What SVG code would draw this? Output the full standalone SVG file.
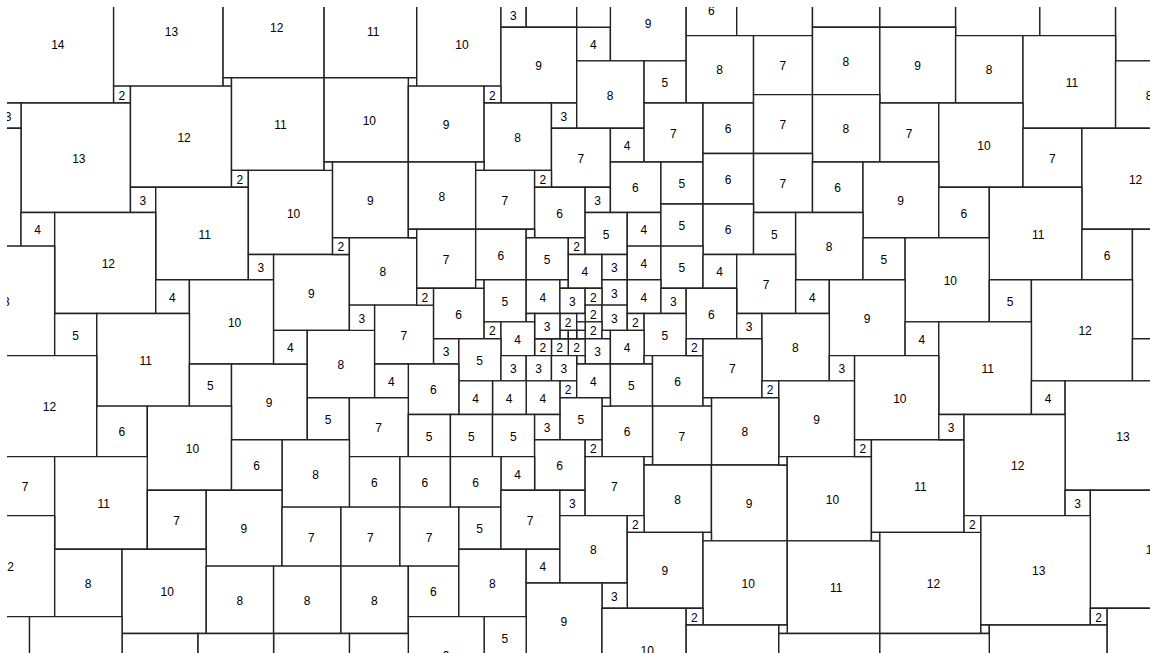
<svg xmlns="http://www.w3.org/2000/svg" width="1150" height="653" viewBox="0 0 1150 653">
<style>
rect.s{fill:#fff;stroke:#222;stroke-width:1.4;vector-effect:non-scaling-stroke}
text{font-family:"Liberation Sans",Arial,sans-serif;font-size:1.425px;fill:#000}
</style>
<defs><clipPath id="clip"><rect x="7" y="7" width="1143" height="646"/></clipPath></defs>
<rect width="1150" height="653" fill="#fff"/>
<g clip-path="url(#clip)">
<g id="tiles" transform="translate(21 103) scale(8.42)">
<g id="n1"><rect class="s" x="-3" y="-14" width="14" height="14"/><text x="3.58" y="-6.4">14</text></g>
<g id="n2"><rect class="s" x="11" y="-15" width="13" height="13"/><text x="17.08" y="-7.9">13</text></g>
<g id="n3"><rect class="s" x="11" y="-2" width="2" height="2"/><text x="11.58" y="-0.4">2</text></g>
<g id="n4"><rect class="s" x="24" y="-15" width="12" height="12"/><text x="29.58" y="-8.4">12</text></g>
<g id="n5"><rect class="s" x="24" y="-3" width="1" height="1"/></g>
<g id="n6"><rect class="s" x="36" y="-14" width="11" height="11"/><text x="41.08" y="-7.9">11</text></g>
<g id="n7"><rect class="s" x="46" y="-3" width="1" height="1"/></g>
<g id="n8"><rect class="s" x="47" y="-12" width="10" height="10"/><text x="51.58" y="-6.4">10</text></g>
<g id="n9"><rect class="s" x="57" y="-12" width="3" height="3"/><text x="58.08" y="-9.9">3</text></g>
<g id="n10"><rect class="s" x="60" y="-15" width="6" height="6"/></g>
<g id="n11"><rect class="s" x="57" y="-9" width="9" height="9"/><text x="61.08" y="-3.9">9</text></g>
<g id="n12"><rect class="s" x="66" y="-9" width="4" height="4"/><text x="67.58" y="-6.4">4</text></g>
<g id="n13"><rect class="s" x="70" y="-14" width="9" height="9"/><text x="74.08" y="-8.9">9</text></g>
<g id="n14"><rect class="s" x="79" y="-14" width="6" height="6"/><text x="81.58" y="-10.4">6</text></g>
<g id="n15"><rect class="s" x="85" y="-17" width="9" height="9"/></g>
<g id="n16"><rect class="s" x="94" y="-17" width="8" height="8"/></g>
<g id="n17"><rect class="s" x="102" y="-18" width="9" height="9"/></g>
<g id="n18"><rect class="s" x="111" y="-18" width="10" height="10"/></g>
<g id="n19"><rect class="s" x="121" y="-17" width="9" height="9"/></g>
<g id="n20"><rect class="s" x="130" y="-16" width="11" height="11"/></g>
<g id="n21"><rect class="s" x="0" y="0" width="13" height="13"/><text x="6.08" y="7.1">13</text></g>
<g id="n22"><rect class="s" x="-3" y="0" width="3" height="3"/><text x="-1.92" y="2.1">3</text></g>
<g id="n23"><rect class="s" x="13" y="-2" width="12" height="12"/><text x="18.58" y="4.6">12</text></g>
<g id="n24"><rect class="s" x="25" y="-3" width="11" height="11"/><text x="30.08" y="3.1">11</text></g>
<g id="n25"><rect class="s" x="36" y="-3" width="10" height="10"/><text x="40.58" y="2.6">10</text></g>
<g id="n26"><rect class="s" x="46" y="-2" width="9" height="9"/><text x="50.08" y="3.1">9</text></g>
<g id="n27"><rect class="s" x="55" y="-2" width="2" height="2"/><text x="55.58" y="-0.4">2</text></g>
<g id="n28"><rect class="s" x="55" y="0" width="8" height="8"/><text x="58.58" y="4.6">8</text></g>
<g id="n29"><rect class="s" x="63" y="0" width="3" height="3"/><text x="64.08" y="2.1">3</text></g>
<g id="n30"><rect class="s" x="66" y="-5" width="8" height="8"/><text x="69.58" y="-0.4">8</text></g>
<g id="n31"><rect class="s" x="74" y="-5" width="5" height="5"/><text x="76.08" y="-1.9">5</text></g>
<g id="n32"><rect class="s" x="79" y="-8" width="8" height="8"/><text x="82.58" y="-3.4">8</text></g>
<g id="n33"><rect class="s" x="87" y="-8" width="7" height="7"/><text x="90.08" y="-3.9">7</text></g>
<g id="n34"><rect class="s" x="94" y="-9" width="8" height="8"/><text x="97.58" y="-4.4">8</text></g>
<g id="n35"><rect class="s" x="102" y="-9" width="9" height="9"/><text x="106.08" y="-3.9">9</text></g>
<g id="n36"><rect class="s" x="111" y="-8" width="8" height="8"/><text x="114.58" y="-3.4">8</text></g>
<g id="n37"><rect class="s" x="119" y="-8" width="11" height="11"/><text x="124.08" y="-1.9">11</text></g>
<g id="n38"><rect class="s" x="130" y="-5" width="8" height="8"/><text x="133.58" y="-0.4">8</text></g>
<g id="n39"><rect class="s" x="63" y="3" width="7" height="7"/><text x="66.08" y="7.1">7</text></g>
<g id="n40"><rect class="s" x="70" y="3" width="4" height="4"/><text x="71.58" y="5.6">4</text></g>
<g id="n41"><rect class="s" x="74" y="0" width="7" height="7"/><text x="77.08" y="4.1">7</text></g>
<g id="n42"><rect class="s" x="81" y="0" width="6" height="6"/><text x="83.58" y="3.6">6</text></g>
<g id="n43"><rect class="s" x="87" y="-1" width="7" height="7"/><text x="90.08" y="3.1">7</text></g>
<g id="n44"><rect class="s" x="94" y="-1" width="8" height="8"/><text x="97.58" y="3.6">8</text></g>
<g id="n45"><rect class="s" x="102" y="0" width="7" height="7"/><text x="105.08" y="4.1">7</text></g>
<g id="n46"><rect class="s" x="109" y="0" width="10" height="10"/><text x="113.58" y="5.6">10</text></g>
<g id="n47"><rect class="s" x="119" y="3" width="7" height="7"/><text x="122.08" y="7.1">7</text></g>
<g id="n48"><rect class="s" x="126" y="3" width="12" height="12"/><text x="131.58" y="9.6">12</text></g>
<g id="n49"><rect class="s" x="-14" y="3" width="14" height="14"/></g>
<g id="n50"><rect class="s" x="13" y="10" width="3" height="3"/><text x="14.08" y="12.1">3</text></g>
<g id="n51"><rect class="s" x="25" y="8" width="2" height="2"/><text x="25.58" y="9.6">2</text></g>
<g id="n52"><rect class="s" x="16" y="10" width="11" height="11"/><text x="21.08" y="16.1">11</text></g>
<g id="n53"><rect class="s" x="27" y="8" width="10" height="10"/><text x="31.58" y="13.6">10</text></g>
<g id="n54"><rect class="s" x="36" y="7" width="1" height="1"/></g>
<g id="n55"><rect class="s" x="37" y="7" width="9" height="9"/><text x="41.08" y="12.1">9</text></g>
<g id="n56"><rect class="s" x="46" y="7" width="8" height="8"/><text x="49.58" y="11.6">8</text></g>
<g id="n57"><rect class="s" x="54" y="7" width="1" height="1"/></g>
<g id="n58"><rect class="s" x="54" y="8" width="7" height="7"/><text x="57.08" y="12.1">7</text></g>
<g id="n59"><rect class="s" x="61" y="8" width="2" height="2"/><text x="61.58" y="9.6">2</text></g>
<g id="n60"><rect class="s" x="61" y="10" width="6" height="6"/><text x="63.58" y="13.6">6</text></g>
<g id="n61"><rect class="s" x="67" y="10" width="3" height="3"/><text x="68.08" y="12.1">3</text></g>
<g id="n62"><rect class="s" x="70" y="7" width="6" height="6"/><text x="72.58" y="10.6">6</text></g>
<g id="n63"><rect class="s" x="76" y="7" width="5" height="5"/><text x="78.08" y="10.1">5</text></g>
<g id="n64"><rect class="s" x="81" y="6" width="6" height="6"/><text x="83.58" y="9.6">6</text></g>
<g id="n65"><rect class="s" x="87" y="6" width="7" height="7"/><text x="90.08" y="10.1">7</text></g>
<g id="n66"><rect class="s" x="94" y="7" width="6" height="6"/><text x="96.58" y="10.6">6</text></g>
<g id="n67"><rect class="s" x="100" y="7" width="9" height="9"/><text x="104.08" y="12.1">9</text></g>
<g id="n68"><rect class="s" x="109" y="10" width="6" height="6"/><text x="111.58" y="13.6">6</text></g>
<g id="n69"><rect class="s" x="115" y="10" width="11" height="11"/><text x="120.08" y="16.1">11</text></g>
<g id="n70"><rect class="s" x="126" y="15" width="6" height="6"/><text x="128.58" y="18.6">6</text></g>
<g id="n71"><rect class="s" x="132" y="15" width="13" height="13"/></g>
<g id="n72"><rect class="s" x="0" y="13" width="4" height="4"/><text x="1.58" y="15.6">4</text></g>
<g id="n73"><rect class="s" x="4" y="13" width="12" height="12"/><text x="9.58" y="19.6">12</text></g>
<g id="n74"><rect class="s" x="-9" y="17" width="13" height="13"/><text x="-2.92" y="24.1">13</text></g>
<g id="n75"><rect class="s" x="27" y="18" width="3" height="3"/><text x="28.08" y="20.1">3</text></g>
<g id="n76"><rect class="s" x="16" y="21" width="4" height="4"/><text x="17.58" y="23.6">4</text></g>
<g id="n77"><rect class="s" x="20" y="21" width="10" height="10"/><text x="24.58" y="26.6">10</text></g>
<g id="n78"><rect class="s" x="30" y="18" width="9" height="9"/><text x="34.08" y="23.1">9</text></g>
<g id="n79"><rect class="s" x="37" y="16" width="2" height="2"/><text x="37.58" y="17.6">2</text></g>
<g id="n80"><rect class="s" x="39" y="16" width="8" height="8"/><text x="42.58" y="20.6">8</text></g>
<g id="n81"><rect class="s" x="46" y="15" width="1" height="1"/></g>
<g id="n82"><rect class="s" x="47" y="15" width="7" height="7"/><text x="50.08" y="19.1">7</text></g>
<g id="n83"><rect class="s" x="54" y="15" width="6" height="6"/><text x="56.58" y="18.6">6</text></g>
<g id="n84"><rect class="s" x="60" y="15" width="1" height="1"/></g>
<g id="n85"><rect class="s" x="60" y="16" width="5" height="5"/><text x="62.08" y="19.1">5</text></g>
<g id="n86"><rect class="s" x="65" y="16" width="2" height="2"/><text x="65.58" y="17.6">2</text></g>
<g id="n87"><rect class="s" x="67" y="13" width="5" height="5"/><text x="69.08" y="16.1">5</text></g>
<g id="n88"><rect class="s" x="72" y="13" width="4" height="4"/><text x="73.58" y="15.6">4</text></g>
<g id="n89"><rect class="s" x="76" y="12" width="5" height="5"/><text x="78.08" y="15.1">5</text></g>
<g id="n90"><rect class="s" x="81" y="12" width="6" height="6"/><text x="83.58" y="15.6">6</text></g>
<g id="n91"><rect class="s" x="87" y="13" width="5" height="5"/><text x="89.08" y="16.1">5</text></g>
<g id="n92"><rect class="s" x="92" y="13" width="8" height="8"/><text x="95.58" y="17.6">8</text></g>
<g id="n93"><rect class="s" x="100" y="16" width="5" height="5"/><text x="102.08" y="19.1">5</text></g>
<g id="n94"><rect class="s" x="105" y="16" width="10" height="10"/><text x="109.58" y="21.6">10</text></g>
<g id="n95"><rect class="s" x="115" y="21" width="5" height="5"/><text x="117.08" y="24.1">5</text></g>
<g id="n96"><rect class="s" x="120" y="21" width="12" height="12"/><text x="125.58" y="27.6">12</text></g>
<g id="n97"><rect class="s" x="132" y="28" width="5" height="5"/></g>
<g id="n98"><rect class="s" x="4" y="25" width="5" height="5"/><text x="6.08" y="28.1">5</text></g>
<g id="n99"><rect class="s" x="9" y="25" width="11" height="11"/><text x="14.08" y="31.1">11</text></g>
<g id="n100"><rect class="s" x="-3" y="30" width="12" height="12"/><text x="2.58" y="36.6">12</text></g>
<g id="n101"><rect class="s" x="9" y="36" width="6" height="6"/><text x="11.58" y="39.6">6</text></g>
<g id="n102"><rect class="s" x="20" y="31" width="5" height="5"/><text x="22.08" y="34.1">5</text></g>
<g id="n103"><rect class="s" x="25" y="31" width="9" height="9"/><text x="29.08" y="36.1">9</text></g>
<g id="n104"><rect class="s" x="15" y="36" width="10" height="10"/><text x="19.58" y="41.6">10</text></g>
<g id="n105"><rect class="s" x="30" y="27" width="4" height="4"/><text x="31.58" y="29.6">4</text></g>
<g id="n106"><rect class="s" x="34" y="27" width="8" height="8"/><text x="37.58" y="31.6">8</text></g>
<g id="n107"><rect class="s" x="39" y="24" width="3" height="3"/><text x="40.08" y="26.1">3</text></g>
<g id="n108"><rect class="s" x="42" y="24" width="7" height="7"/><text x="45.08" y="28.1">7</text></g>
<g id="n109"><rect class="s" x="47" y="22" width="2" height="2"/><text x="47.58" y="23.6">2</text></g>
<g id="n110"><rect class="s" x="49" y="22" width="6" height="6"/><text x="51.58" y="25.6">6</text></g>
<g id="n111"><rect class="s" x="54" y="21" width="1" height="1"/></g>
<g id="n112"><rect class="s" x="55" y="21" width="5" height="5"/><text x="57.08" y="24.1">5</text></g>
<g id="n113"><rect class="s" x="60" y="21" width="4" height="4"/><text x="61.58" y="23.6">4</text></g>
<g id="n114"><rect class="s" x="64" y="21" width="1" height="1"/></g>
<g id="n115"><rect class="s" x="65" y="18" width="4" height="4"/><text x="66.58" y="20.6">4</text></g>
<g id="n116"><rect class="s" x="69" y="18" width="3" height="3"/><text x="70.08" y="20.1">3</text></g>
<g id="n117"><rect class="s" x="69" y="21" width="3" height="3"/><text x="70.08" y="23.1">3</text></g>
<g id="n118"><rect class="s" x="72" y="17" width="4" height="4"/><text x="73.58" y="19.6">4</text></g>
<g id="n119"><rect class="s" x="76" y="17" width="5" height="5"/><text x="78.08" y="20.1">5</text></g>
<g id="n120"><rect class="s" x="81" y="18" width="4" height="4"/><text x="82.58" y="20.6">4</text></g>
<g id="n121"><rect class="s" x="85" y="18" width="7" height="7"/><text x="88.08" y="22.1">7</text></g>
<g id="n122"><rect class="s" x="92" y="21" width="4" height="4"/><text x="93.58" y="23.6">4</text></g>
<g id="n123"><rect class="s" x="96" y="21" width="9" height="9"/><text x="100.08" y="26.1">9</text></g>
<g id="n124"><rect class="s" x="105" y="26" width="4" height="4"/><text x="106.58" y="28.6">4</text></g>
<g id="n125"><rect class="s" x="109" y="26" width="11" height="11"/><text x="114.08" y="32.1">11</text></g>
<g id="n126"><rect class="s" x="120" y="33" width="4" height="4"/><text x="121.58" y="35.6">4</text></g>
<g id="n127"><rect class="s" x="124" y="33" width="13" height="13"/><text x="130.08" y="40.1">13</text></g>
<g id="n128"><rect class="s" x="64" y="22" width="3" height="3"/><text x="65.08" y="24.1">3</text></g>
<g id="n129"><rect class="s" x="67" y="22" width="2" height="2"/><text x="67.58" y="23.6">2</text></g>
<g id="n130"><rect class="s" x="67" y="24" width="2" height="2"/><text x="67.58" y="25.6">2</text></g>
<g id="n131"><rect class="s" x="69" y="24" width="3" height="3"/><text x="70.08" y="26.1">3</text></g>
<g id="n132"><rect class="s" x="72" y="21" width="4" height="4"/><text x="73.58" y="23.6">4</text></g>
<g id="n133"><rect class="s" x="76" y="22" width="3" height="3"/><text x="77.08" y="24.1">3</text></g>
<g id="n134"><rect class="s" x="79" y="22" width="6" height="6"/><text x="81.58" y="25.6">6</text></g>
<g id="n135"><rect class="s" x="85" y="25" width="3" height="3"/><text x="86.08" y="27.1">3</text></g>
<g id="n136"><rect class="s" x="88" y="25" width="8" height="8"/><text x="91.58" y="29.6">8</text></g>
<g id="n137"><rect class="s" x="72" y="25" width="2" height="2"/><text x="72.58" y="26.6">2</text></g>
<g id="n138"><rect class="s" x="74" y="25" width="5" height="5"/><text x="76.08" y="28.1">5</text></g>
<g id="n139"><rect class="s" x="67" y="26" width="2" height="2"/><text x="67.58" y="27.6">2</text></g>
<g id="n140"><rect class="s" x="69" y="27" width="1" height="1"/></g>
<g id="n141"><rect class="s" x="67" y="28" width="3" height="3"/><text x="68.08" y="30.1">3</text></g>
<g id="n142"><rect class="s" x="70" y="27" width="4" height="4"/><text x="71.58" y="29.6">4</text></g>
<g id="n143"><rect class="s" x="74" y="30" width="1" height="1"/></g>
<g id="n144"><rect class="s" x="65" y="28" width="2" height="2"/><text x="65.58" y="29.6">2</text></g>
<g id="n145"><rect class="s" x="66" y="30" width="1" height="1"/></g>
<g id="n146"><rect class="s" x="63" y="28" width="2" height="2"/><text x="63.58" y="29.6">2</text></g>
<g id="n147"><rect class="s" x="61" y="28" width="2" height="2"/><text x="61.58" y="29.6">2</text></g>
<g id="n148"><rect class="s" x="64" y="25" width="2" height="2"/><text x="64.58" y="26.6">2</text></g>
<g id="n149a"><rect class="s" x="66" y="25" width="1" height="1"/></g>
<g id="n149b"><rect class="s" x="66" y="26" width="1" height="1"/></g>
<g id="n149c"><rect class="s" x="66" y="27" width="1" height="1"/></g>
<g id="n149d"><rect class="s" x="64" y="27" width="1" height="1"/></g>
<g id="n149e"><rect class="s" x="65" y="27" width="1" height="1"/></g>
<g id="n150"><rect class="s" x="61" y="25" width="3" height="3"/><text x="62.08" y="27.1">3</text></g>
<g id="n151"><rect class="s" x="60" y="25" width="1" height="1"/></g>
<g id="n152"><rect class="s" x="55" y="26" width="2" height="2"/><text x="55.58" y="27.6">2</text></g>
<g id="n153"><rect class="s" x="57" y="26" width="4" height="4"/><text x="58.58" y="28.6">4</text></g>
<g id="n154"><rect class="s" x="49" y="28" width="3" height="3"/><text x="50.08" y="30.1">3</text></g>
<g id="n155"><rect class="s" x="52" y="28" width="5" height="5"/><text x="54.08" y="31.1">5</text></g>
<g id="n156"><rect class="s" x="57" y="30" width="3" height="3"/><text x="58.08" y="32.1">3</text></g>
<g id="n157"><rect class="s" x="60" y="30" width="3" height="3"/><text x="61.08" y="32.1">3</text></g>
<g id="n158"><rect class="s" x="63" y="30" width="3" height="3"/><text x="64.08" y="32.1">3</text></g>
<g id="n159"><rect class="s" x="64" y="33" width="2" height="2"/><text x="64.58" y="34.6">2</text></g>
<g id="n160"><rect class="s" x="66" y="31" width="4" height="4"/><text x="67.58" y="33.6">4</text></g>
<g id="n161"><rect class="s" x="70" y="31" width="5" height="5"/><text x="72.08" y="34.1">5</text></g>
<g id="n162"><rect class="s" x="75" y="30" width="6" height="6"/><text x="77.58" y="33.6">6</text></g>
<g id="n163"><rect class="s" x="79" y="28" width="2" height="2"/><text x="79.58" y="29.6">2</text></g>
<g id="n164"><rect class="s" x="81" y="28" width="7" height="7"/><text x="84.08" y="32.1">7</text></g>
<g id="n165"><rect class="s" x="88" y="33" width="2" height="2"/><text x="88.58" y="34.6">2</text></g>
<g id="n166"><rect class="s" x="96" y="30" width="3" height="3"/><text x="97.08" y="32.1">3</text></g>
<g id="n167"><rect class="s" x="90" y="33" width="9" height="9"/><text x="94.08" y="38.1">9</text></g>
<g id="n168"><rect class="s" x="99" y="30" width="10" height="10"/><text x="103.58" y="35.6">10</text></g>
<g id="n169"><rect class="s" x="82" y="35" width="8" height="8"/><text x="85.58" y="39.6">8</text></g>
<g id="n170"><rect class="s" x="81" y="35" width="1" height="1"/></g>
<g id="n171"><rect class="s" x="75" y="36" width="7" height="7"/><text x="78.08" y="40.1">7</text></g>
<g id="n172"><rect class="s" x="69" y="36" width="6" height="6"/><text x="71.58" y="39.6">6</text></g>
<g id="n173"><rect class="s" x="69" y="35" width="1" height="1"/></g>
<g id="n174"><rect class="s" x="64" y="35" width="5" height="5"/><text x="66.08" y="38.1">5</text></g>
<g id="n175"><rect class="s" x="60" y="33" width="4" height="4"/><text x="61.58" y="35.6">4</text></g>
<g id="n176"><rect class="s" x="56" y="33" width="4" height="4"/><text x="57.58" y="35.6">4</text></g>
<g id="n177"><rect class="s" x="52" y="33" width="4" height="4"/><text x="53.58" y="35.6">4</text></g>
<g id="n178"><rect class="s" x="46" y="31" width="6" height="6"/><text x="48.58" y="34.6">6</text></g>
<g id="n179"><rect class="s" x="42" y="31" width="4" height="4"/><text x="43.58" y="33.6">4</text></g>
<g id="n180"><rect class="s" x="34" y="35" width="5" height="5"/><text x="36.08" y="38.1">5</text></g>
<g id="n181"><rect class="s" x="39" y="35" width="7" height="7"/><text x="42.08" y="39.1">7</text></g>
<g id="n182a"><rect class="s" x="46" y="37" width="5" height="5"/><text x="48.08" y="40.1">5</text></g>
<g id="n182b"><rect class="s" x="51" y="37" width="5" height="5"/><text x="53.08" y="40.1">5</text></g>
<g id="n182c"><rect class="s" x="56" y="37" width="5" height="5"/><text x="58.08" y="40.1">5</text></g>
<g id="n183"><rect class="s" x="61" y="37" width="3" height="3"/><text x="62.08" y="39.1">3</text></g>
<g id="n184"><rect class="s" x="61" y="40" width="6" height="6"/><text x="63.58" y="43.6">6</text></g>
<g id="n185"><rect class="s" x="67" y="40" width="2" height="2"/><text x="67.58" y="41.6">2</text></g>
<g id="n186"><rect class="s" x="57" y="42" width="4" height="4"/><text x="58.58" y="44.6">4</text></g>
<g id="n187a"><rect class="s" x="39" y="42" width="6" height="6"/><text x="41.58" y="45.6">6</text></g>
<g id="n187b"><rect class="s" x="45" y="42" width="6" height="6"/><text x="47.58" y="45.6">6</text></g>
<g id="n187c"><rect class="s" x="51" y="42" width="6" height="6"/><text x="53.58" y="45.6">6</text></g>
<g id="n188"><rect class="s" x="31" y="40" width="8" height="8"/><text x="34.58" y="44.6">8</text></g>
<g id="n189"><rect class="s" x="25" y="40" width="6" height="6"/><text x="27.58" y="43.6">6</text></g>
<g id="n190"><rect class="s" x="-3" y="42" width="7" height="7"/><text x="0.08" y="46.1">7</text></g>
<g id="n191"><rect class="s" x="4" y="42" width="11" height="11"/><text x="9.08" y="48.1">11</text></g>
<g id="n192"><rect class="s" x="15" y="46" width="7" height="7"/><text x="18.08" y="50.1">7</text></g>
<g id="n193"><rect class="s" x="22" y="46" width="9" height="9"/><text x="26.08" y="51.1">9</text></g>
<g id="n194a"><rect class="s" x="31" y="48" width="7" height="7"/><text x="34.08" y="52.1">7</text></g>
<g id="n194b"><rect class="s" x="38" y="48" width="7" height="7"/><text x="41.08" y="52.1">7</text></g>
<g id="n194c"><rect class="s" x="45" y="48" width="7" height="7"/><text x="48.08" y="52.1">7</text></g>
<g id="n195"><rect class="s" x="52" y="48" width="5" height="5"/><text x="54.08" y="51.1">5</text></g>
<g id="n196"><rect class="s" x="57" y="46" width="7" height="7"/><text x="60.08" y="50.1">7</text></g>
<g id="n197"><rect class="s" x="64" y="46" width="3" height="3"/><text x="65.08" y="48.1">3</text></g>
<g id="n198"><rect class="s" x="67" y="42" width="7" height="7"/><text x="70.08" y="46.1">7</text></g>
<g id="n199"><rect class="s" x="74" y="42" width="1" height="1"/></g>
<g id="n200"><rect class="s" x="74" y="43" width="8" height="8"/><text x="77.58" y="47.6">8</text></g>
<g id="n201"><rect class="s" x="82" y="43" width="9" height="9"/><text x="86.08" y="48.1">9</text></g>
<g id="n202"><rect class="s" x="90" y="42" width="1" height="1"/></g>
<g id="n203"><rect class="s" x="91" y="42" width="10" height="10"/><text x="95.58" y="47.6">10</text></g>
<g id="n204"><rect class="s" x="99" y="40" width="2" height="2"/><text x="99.58" y="41.6">2</text></g>
<g id="n205"><rect class="s" x="101" y="40" width="11" height="11"/><text x="106.08" y="46.1">11</text></g>
<g id="n206"><rect class="s" x="109" y="37" width="3" height="3"/><text x="110.08" y="39.1">3</text></g>
<g id="n207"><rect class="s" x="112" y="37" width="12" height="12"/><text x="117.58" y="43.6">12</text></g>
<g id="n208"><rect class="s" x="124" y="46" width="3" height="3"/><text x="125.08" y="48.1">3</text></g>
<g id="n209"><rect class="s" x="127" y="46" width="14" height="14"/><text x="133.58" y="53.6">14</text></g>
<g id="n210"><rect class="s" x="-8" y="49" width="12" height="12"/><text x="-2.42" y="55.6">12</text></g>
<g id="n211"><rect class="s" x="4" y="53" width="8" height="8"/><text x="7.58" y="57.6">8</text></g>
<g id="n212"><rect class="s" x="12" y="53" width="10" height="10"/><text x="16.58" y="58.6">10</text></g>
<g id="n213a"><rect class="s" x="22" y="55" width="8" height="8"/><text x="25.58" y="59.6">8</text></g>
<g id="n213b"><rect class="s" x="30" y="55" width="8" height="8"/><text x="33.58" y="59.6">8</text></g>
<g id="n213c"><rect class="s" x="38" y="55" width="8" height="8"/><text x="41.58" y="59.6">8</text></g>
<g id="n214"><rect class="s" x="46" y="55" width="6" height="6"/><text x="48.58" y="58.6">6</text></g>
<g id="n215"><rect class="s" x="52" y="53" width="8" height="8"/><text x="55.58" y="57.6">8</text></g>
<g id="n216"><rect class="s" x="60" y="53" width="4" height="4"/><text x="61.58" y="55.6">4</text></g>
<g id="n217"><rect class="s" x="64" y="49" width="8" height="8"/><text x="67.58" y="53.6">8</text></g>
<g id="n218"><rect class="s" x="72" y="49" width="2" height="2"/><text x="72.58" y="50.6">2</text></g>
<g id="n219"><rect class="s" x="72" y="51" width="9" height="9"/><text x="76.08" y="56.1">9</text></g>
<g id="n220"><rect class="s" x="81" y="51" width="1" height="1"/></g>
<g id="n221"><rect class="s" x="81" y="52" width="10" height="10"/><text x="85.58" y="57.6">10</text></g>
<g id="n222"><rect class="s" x="91" y="52" width="11" height="11"/><text x="96.08" y="58.1">11</text></g>
<g id="n223"><rect class="s" x="101" y="51" width="1" height="1"/></g>
<g id="n224"><rect class="s" x="102" y="51" width="12" height="12"/><text x="107.58" y="57.6">12</text></g>
<g id="n225"><rect class="s" x="112" y="49" width="2" height="2"/><text x="112.58" y="50.6">2</text></g>
<g id="n226"><rect class="s" x="114" y="49" width="13" height="13"/><text x="120.08" y="56.1">13</text></g>
<g id="n227"><rect class="s" x="127" y="60" width="2" height="2"/><text x="127.58" y="61.6">2</text></g>
<g id="n228"><rect class="s" x="114" y="62" width="1" height="1"/></g>
<g id="n229"><rect class="s" x="115" y="62" width="14" height="14"/></g>
<g id="n230"><rect class="s" x="129" y="60" width="15" height="15"/></g>
<g id="n231"><rect class="s" x="69" y="57" width="3" height="3"/><text x="70.08" y="59.1">3</text></g>
<g id="n232"><rect class="s" x="60" y="57" width="9" height="9"/><text x="64.08" y="62.1">9</text></g>
<g id="n233"><rect class="s" x="55" y="61" width="5" height="5"/><text x="57.08" y="64.1">5</text></g>
<g id="n234"><rect class="s" x="46" y="61" width="9" height="9"/><text x="50.08" y="66.1">9</text></g>
<g id="n235"><rect class="s" x="69" y="60" width="10" height="10"/><text x="73.58" y="65.6">10</text></g>
<g id="n236"><rect class="s" x="79" y="60" width="2" height="2"/><text x="79.58" y="61.6">2</text></g>
<g id="n237"><rect class="s" x="79" y="62" width="11" height="11"/></g>
<g id="n238"><rect class="s" x="90" y="62" width="1" height="1"/></g>
<g id="n239"><rect class="s" x="90" y="63" width="12" height="12"/></g>
<g id="n240"><rect class="s" x="102" y="63" width="13" height="13"/></g>
<g id="n241"><rect class="s" x="39" y="63" width="7" height="7"/></g>
<g id="n242a"><rect class="s" x="30" y="63" width="9" height="9"/></g>
<g id="n242b"><rect class="s" x="21" y="63" width="9" height="9"/></g>
<g id="n242c"><rect class="s" x="12" y="63" width="9" height="9"/></g>
<g id="n243"><rect class="s" x="1" y="61" width="11" height="11"/></g>
<g id="n244"><rect class="s" x="-10" y="61" width="11" height="11"/></g>
</g>
<g id="connectors"/>
</g>
</svg>
